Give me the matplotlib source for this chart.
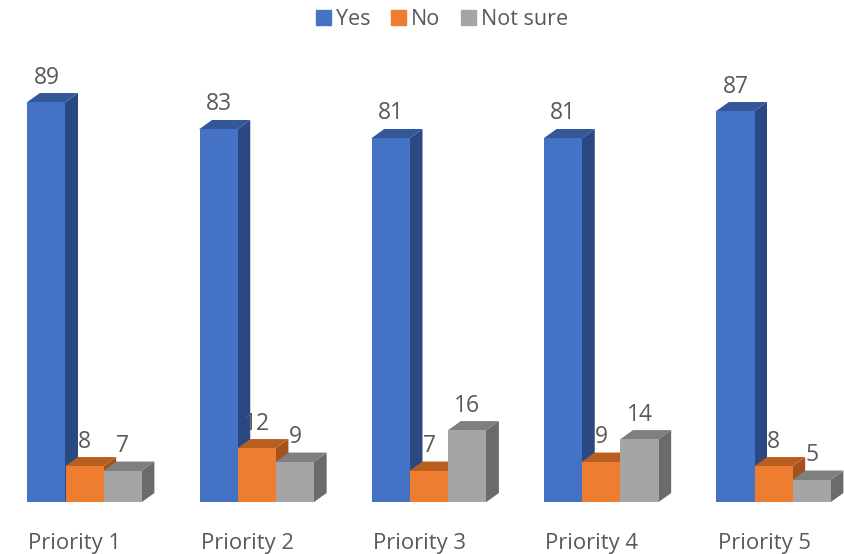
import matplotlib
matplotlib.use('Agg')
import matplotlib.pyplot as plt
from matplotlib.patches import Patch, Polygon

plt.rcParams['font.family'] = ['Open Sans', 'DejaVu Sans']

categories = ['Priority 1', 'Priority 2', 'Priority 3', 'Priority 4', 'Priority 5']
yes = [89, 83, 81, 81, 87]
no = [8, 12, 7, 9, 8]
not_sure = [7, 9, 16, 14, 5]

# front, top, side colours for each series
series = [
    ('Yes', yes, '#4472C4', '#335797', '#2A4882'),
    ('No', no, '#ED7D31', '#B85F20', '#A4521B'),
    ('Not sure', not_sure, '#A5A5A5', '#7F7F7F', '#6B6B6B'),
]

W, H = 844, 554
BASE = 502          # baseline in pixels from the top
PX_VALUE = 4.494    # pixels per value unit
PX_GROUP = 172.25   # pixels per category
FIRST = 84.6        # pixel x of first group centre
bar_w = 38.2 / PX_GROUP
dx = 12.5 / PX_GROUP
dy = 9 / PX_VALUE
# side and top run 1px under the front face so no seam shows
lap_x = 1 / PX_GROUP
lap_y = 1 / PX_VALUE

fig = plt.figure(figsize=(W / 100, H / 100), dpi=100)
ax = fig.add_axes([0, (H - BASE) / H, 1, BASE / H])
ax.set_xlim(-FIRST / PX_GROUP, (W - FIRST) / PX_GROUP)
ax.set_ylim(0, BASE / PX_VALUE)

for j, (name, vals, front, top, side) in enumerate(series):
    for i, v in enumerate(vals):
        x0 = i + (j - 1.5) * bar_w
        x1 = x0 + bar_w
        z = 2 + j + i * 10
        ax.add_patch(Polygon([(x1 - lap_x, 0), (x1, 0), (x1 + dx, dy), (x1 + dx, v + dy),
                              (x1, v), (x1 - lap_x, v)],
                             fc=side, ec='none', zorder=z))
        ax.add_patch(Polygon([(x0, v - lap_y), (x0, v), (x0 + dx, v + dy), (x1 + dx, v + dy),
                              (x1, v), (x1, v - lap_y)],
                             fc=top, ec='none', zorder=z))
        ax.bar(x0 + bar_w / 2, v, bar_w, color=front, zorder=z + 0.5)
        ax.annotate(str(v), (x0 + bar_w / 2, v), xytext=(0, 24.5), textcoords='offset pixels',
                    ha='center', va='center', fontsize=16.5, color='#595959', zorder=100)

# tick labels sit a bit left of the group centres
ax.set_xticks([i - 9.6 / PX_GROUP for i in range(len(categories))])
ax.set_xticklabels(categories, fontsize=15.8, color='#595959')
ax.tick_params(axis='x', length=0, pad=22)
ax.set_yticks([])
for s in ax.spines.values():
    s.set_visible(False)

handles = [Patch(color=s[2], label=s[0]) for s in series]
fig.legend(handles=handles, loc='upper center', bbox_to_anchor=(0.524, 1.018), ncol=3,
           frameon=False, fontsize=15.5, labelcolor='#595959', handlelength=0.68,
           handleheight=0.68, handletextpad=0.25, columnspacing=0.95)

fig.savefig('out.png', dpi=100)
